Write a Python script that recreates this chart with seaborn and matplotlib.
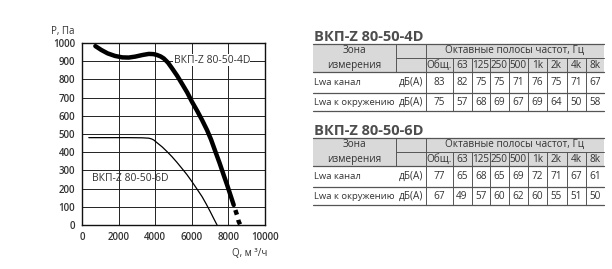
import matplotlib
matplotlib.use("Agg")
import matplotlib.pyplot as plt
import seaborn as sns
import pandas as pd

# fan curves, Q [m3/h] vs P [Pa]
q_4d = [730, 1050, 1400, 1800, 2200, 2550, 2900, 3300, 3650, 3900, 4100, 4300, 4470,
        4700, 4920, 5200, 5460, 5750, 6010, 6300, 6560, 6830, 7050, 7290, 7520, 7740,
        7930, 8110, 8290]
p_4d = [983, 962, 943, 929, 921, 920, 925, 934, 940, 939, 934, 926, 915,
        892, 861, 820, 777, 728, 677, 626, 577, 522, 470, 403, 340, 275,
        220, 165, 110]
q_4d_tail = [8290, 8380, 8470, 8560, 8650]
p_4d_tail = [110, 82, 55, 20, 0]
q_6d = [370, 1500, 2500, 3300, 3650, 3800, 3920, 4100, 4370, 4640, 4920, 5190, 5460,
        5740, 6010, 6280, 6560, 6790, 7010, 7200, 7380]
p_6d = [480, 480, 480, 479, 477, 473, 467, 452, 430, 404, 375, 344, 311,
        276, 238, 198, 156, 115, 73, 35, 0]

# noise tables
bands = ["Общ.", "63", "125", "250", "500", "1k", "2k", "4k", "8k"]
rows = ["Lwa канал", "Lwa к окружению"]
t4d_duct = [83, 82, 75, 75, 71, 76, 75, 71, 67]
t4d_env = [75, 57, 68, 69, 67, 69, 64, 50, 58]
t6d_duct = [77, 65, 68, 65, 69, 72, 71, 67, 61]
t6d_env = [67, 49, 57, 60, 62, 60, 55, 51, 50]

TXT = "#333333"
LINE = "#555555"


def draw_table(ax, y0, title, values):
    xs = [313, 395.5, 425.5, 452.5, 471.5, 490, 508.5, 528, 546.5, 566.5, 586, 604]
    h = [0, 13.2, 27.5, 49, 66.5]
    ys = [y0 + d for d in h]
    ax.text(314, y0 - 7, title, fontsize=10.5, fontweight="bold", color="#4d4d4d",
            ha="left", va="center")
    ax.axhspan(ys[0], ys[2], xmin=xs[0] / 612, xmax=xs[-1] / 612, color="#d9d9d9", lw=0)
    for y in [ys[0], ys[2], ys[3], ys[4]]:
        ax.plot([xs[0], xs[-1]], [y, y], color=LINE, lw=0.9)
    ax.plot([xs[1], xs[-1]], [ys[1], ys[1]], color=LINE, lw=0.7)
    ax.plot([xs[1], xs[1]], [ys[0], ys[2]], color=LINE, lw=0.7)
    ax.plot([xs[2], xs[2]], [ys[0], ys[4]], color=LINE, lw=0.7)
    for x in xs[3:-1]:
        ax.plot([x, x], [ys[1], ys[4]], color=LINE, lw=0.7)
    fs = 7.2
    ax.text((xs[0] + xs[1]) / 2, ys[0] + 6.5, "Зона", fontsize=fs, color=TXT, ha="center", va="center")
    ax.text((xs[0] + xs[1]) / 2, ys[1] + 8, "измерения", fontsize=fs, color=TXT, ha="center", va="center")
    ax.text((xs[2] + xs[-1]) / 2, ys[0] + 6.5, "Октавные полосы частот, Гц", fontsize=fs,
            color=TXT, ha="center", va="center")
    for i, b in enumerate(bands):
        ax.text((xs[i + 2] + xs[i + 3]) / 2, ys[1] + 8, b, fontsize=fs, color=TXT,
                ha="center", va="center")
    for r, (name, vals) in enumerate(zip(rows, values)):
        yc = (ys[2 + r] + ys[3 + r]) / 2
        ax.text(xs[0] + 1, yc, name, fontsize=fs - 0.4, color=TXT, ha="left", va="center")
        ax.text(xs[2] - 2, yc, "дБ(А)", fontsize=fs, color=TXT, ha="right", va="center")
        for i, v in enumerate(vals):
            ax.text((xs[i + 2] + xs[i + 3]) / 2, yc, str(v), fontsize=fs, color=TXT,
                    ha="center", va="center")


def main():
    sns.set_theme(style="white")
    plt.rcParams["font.family"] = ["Open Sans", "DejaVu Sans"]

    fig = plt.figure(figsize=(6.12, 2.69), dpi=100)
    ax = fig.add_axes([82 / 612, 1 - 225 / 269, 183 / 612, 182 / 269])

    df4 = pd.DataFrame({"Q": q_4d, "P": p_4d})
    df4t = pd.DataFrame({"Q": q_4d_tail, "P": p_4d_tail})
    df6 = pd.DataFrame({"Q": q_6d, "P": p_6d})
    sns.lineplot(x="Q", y="P", data=df4, ax=ax, color="black", lw=3.2, sort=False,
                 solid_capstyle="round")
    # dashed tail: gap, dash, gap, dash
    sns.lineplot(x="Q", y="P", data=df4t, ax=ax, color="black", lw=3.2, sort=False,
                 linestyle=(1.1, (1.1, 1.2)))
    sns.lineplot(x="Q", y="P", data=df6, ax=ax, color="black", lw=0.9, sort=False)

    ax.set_xlim(0, 10000)
    ax.set_ylim(0, 1000)
    ax.set_xticks(range(0, 10001, 2000))
    ax.set_yticks(range(0, 1001, 100))
    ax.grid(True, color="#222222", lw=0.7)
    for s in ax.spines.values():
        s.set_color("#111111")
        s.set_linewidth(1.0)
    ax.tick_params(axis="both", direction="out", length=3, width=0.8, color="#222222",
                   labelsize=7, labelcolor=TXT, pad=2)
    for lab in ax.get_xticklabels() + ax.get_yticklabels():
        lab.set_fontweight("semibold")
    ax.set_xlabel("")
    ax.set_ylabel("")
    ax.text(5000, 905, "ВКП-Z 80-50-4D", fontsize=7.5, color=TXT, ha="left", va="center",
            bbox=dict(facecolor="white", edgecolor="none", pad=0.3))
    ax.text(546, 257, "ВКП-Z 80-50-6D", fontsize=7.5, color=TXT, ha="left", va="center")
    fig.text(63 / 612, 1 - 32 / 269, "P, Па", fontsize=7, color=TXT, ha="center", va="center")
    fig.text(250 / 612, 1 - 253 / 269, "Q, м ³/ч", fontsize=7, color=TXT, ha="center", va="center")

    tab = fig.add_axes([0, 0, 1, 1])
    tab.set_xlim(0, 612)
    tab.set_ylim(269, 0)
    tab.axis("off")
    tab.patch.set_alpha(0)
    draw_table(tab, 44.3, "ВКП-Z 80-50-4D", [t4d_duct, t4d_env])
    draw_table(tab, 138.3, "ВКП-Z 80-50-6D", [t6d_duct, t6d_env])

    fig.savefig("out.png", dpi=100)


if __name__ == "__main__":
    main()
